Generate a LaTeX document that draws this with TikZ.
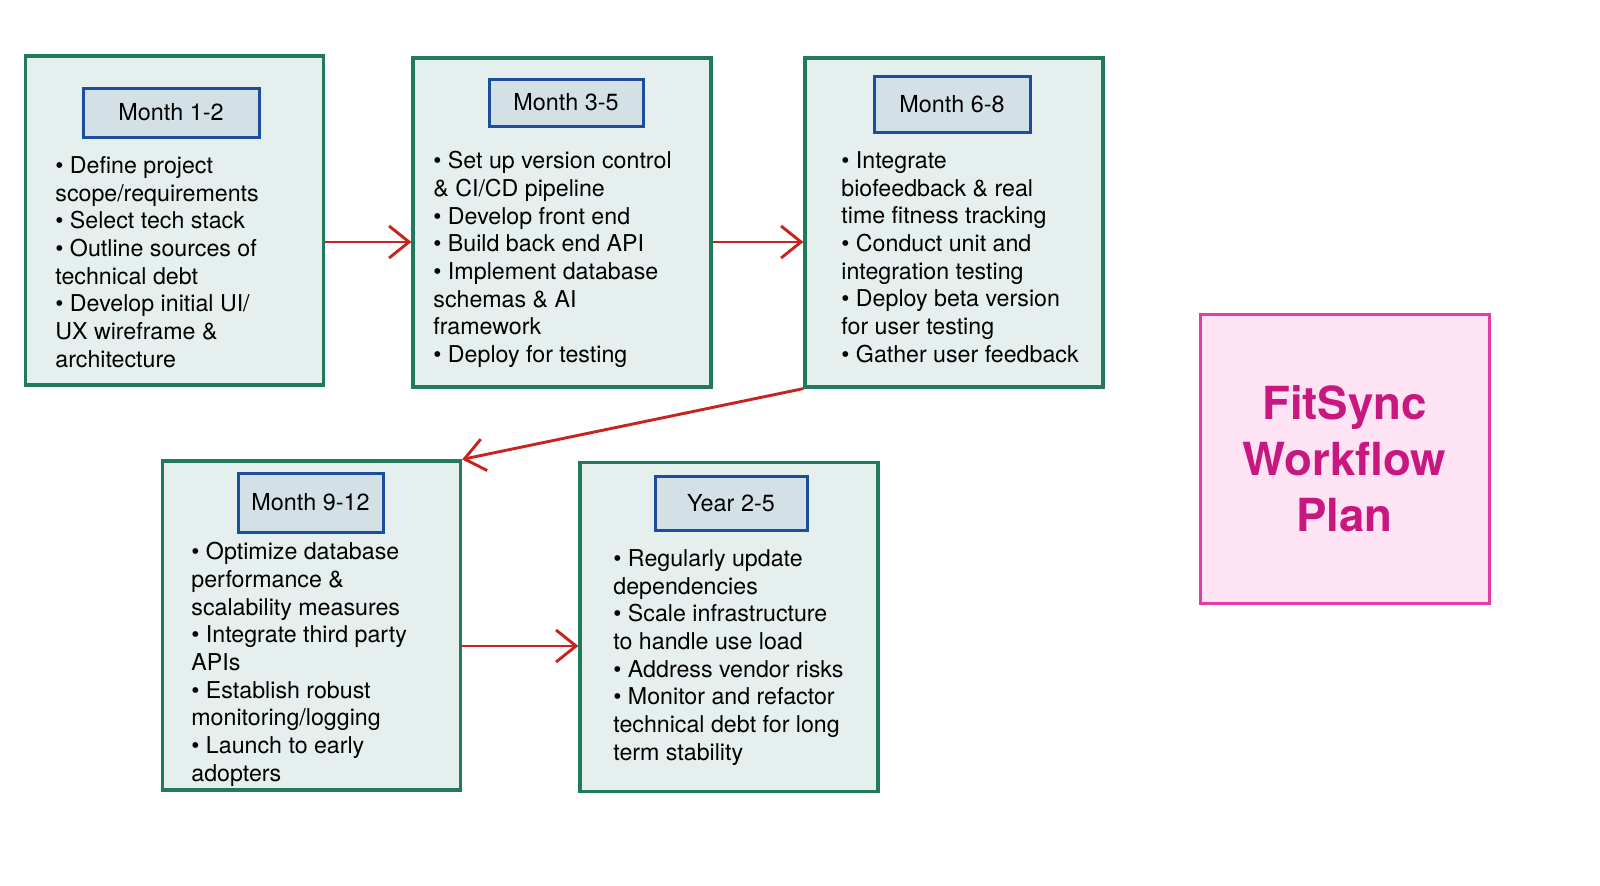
\documentclass[tikz,border=0pt]{standalone}
\usepackage{fontspec}
\setmainfont{TeX Gyre Heros}
\usetikzlibrary{arrows.meta,positioning}
\definecolor{phasefill}{HTML}{E4EFEE}
\definecolor{phaseline}{HTML}{217A5B}
\definecolor{headfill}{HTML}{D3E1E6}
\definecolor{headline}{HTML}{1C4E9C}
\definecolor{flowred}{HTML}{C9231E}
\definecolor{titlefill}{HTML}{FDE3F4}
\definecolor{titleline}{HTML}{E23DA5}
\definecolor{titletext}{HTML}{C8187F}

\begin{document}
\begin{tikzpicture}[x=0.5pt,y=-0.5pt,>={Straight Barb[length=10pt,width=16pt]},
 phase/.style={draw=phaseline,line width=1.6pt,fill=phasefill,minimum width=149pt,minimum height=164.5pt,inner sep=0pt},
 head/.style={draw=headline,line width=1.5pt,fill=headfill,inner sep=0pt,font=\fontsize{11.7}{13.7}\selectfont},
 items/.style={anchor=north west,inner sep=0pt,align=left,font=\fontsize{11.6}{13.85}\selectfont},
 flow/.style={->,line width=1.45pt,color=flowred}]
 \useasboundingbox (0,0) rectangle (1600,885);
 \node[phase] (p1) at (174.5,220.5) {};
 \node[phase] (p2) at (562,222.5) {};
 \node[phase] (p3) at (954,222.5) {};
 \node[phase] (p4) at (311.5,625.5) {};
 \node[phase] (p5) at (729,627) {};
 \node[head,minimum width=88pt,minimum height=24.5pt] (h1) at (171,112.5) {Month 1-2};
 \node[head,minimum width=77pt,minimum height=23.5pt] (h2) at (566,102.5) {Month 3-5};
 \node[head,minimum width=78pt,minimum height=28pt] (h3) at (952,104) {Month 6-8};
 \node[head,minimum width=72.5pt,minimum height=29.5pt] (h4) at (310.5,502.5) {Month 9-12};
 \node[head,minimum width=76pt,minimum height=27pt] (h5) at (731,503) {Year 2-5};
 \node[items] (t1) at (55,156) {• Define project\\scope/requirements\\• Select tech stack\\• Outline sources of\\technical debt\\• Develop initial UI/\\UX wireframe \&\\architecture};
 \node[items] (t2) at (433,151) {• Set up version control\\\& CI/CD pipeline\\• Develop front end\\• Build back end API\\• Implement database\\schemas \& AI\\framework\\• Deploy for testing};
 \node[items] (t3) at (841,151) {• Integrate\\biofeedback \& real\\time fitness tracking\\• Conduct unit and\\integration testing\\• Deploy beta version\\for user testing\\• Gather user feedback};
 \node[items] (t4) at (191,542) {• Optimize database\\performance \&\\scalability measures\\• Integrate third party\\APIs\\• Establish robust\\monitoring/logging\\• Launch to early\\adopters};
 \node[items] (t5) at (613,549) {• Regularly update\\dependencies\\• Scale infrastructure\\to handle use load\\• Address vendor risks\\• Monitor and refactor\\technical debt for long\\term stability};
 \node[draw=titleline,line width=1.5pt,fill=titlefill,minimum size=144.5pt,align=center,text=titletext,font=\bfseries\fontsize{22.8}{28}\selectfont] (plan) at (1344.5,458.5) {FitSync\\Workflow\\Plan};
 \coordinate (a1) at ([yshift=-10.75pt]p1.east);
 \coordinate (a4) at ([yshift=-10.25pt]p4.east);
 \draw[flow] (a1) -- (a1 -| p2.west);
 \draw[flow] (p2.east |- a1) -- (a1 -| p3.west);
 \draw[flow] (p3.south west) -- (p4.north east);
 \draw[flow] (a4) -- (a4 -| p5.west);
\end{tikzpicture}
\end{document}
